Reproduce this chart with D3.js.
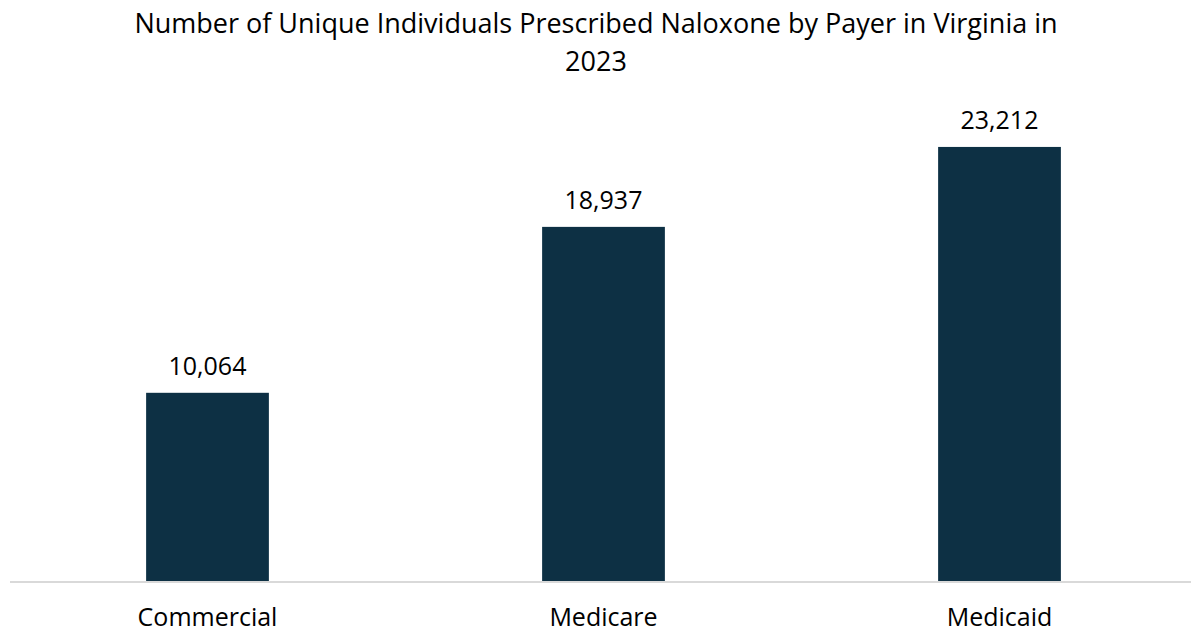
<!DOCTYPE html>
<html>
<head>
<meta charset="utf-8">
<script src="https://cdn.jsdelivr.net/npm/d3@7"></script>
<style>
  body { margin: 0; background: #fff; }
  text { font-family: "Open Sans", sans-serif; fill: #000; }
</style>
</head>
<body>
<svg width="1191" height="633"></svg>
<script>
var categories = ["Commercial", "Medicare", "Medicaid"];
var values = [10064, 18937, 23212];
var titleLines = ["Number of Unique Individuals Prescribed Naloxone by Payer in Virginia in", "2023"];

var svg = d3.select("svg"),
    baseline = 581;

var x = d3.scaleBand()
    .domain(categories)
    .range([9.5, 1197.5])
    .paddingInner(0.69)
    .paddingOuter(0.345);

var y = d3.scaleLinear()
    .domain([0, 25000])
    .range([baseline, baseline - 25000 * 0.0187]);

var data = categories.map(function(c, i) { return {cat: c, value: values[i]}; });

// title, two lines
svg.append("g").selectAll("text").data(titleLines).enter().append("text")
    .attr("x", 596)
    .attr("y", (d, i) => 33 + i * 38)
    .attr("text-anchor", "middle")
    .style("font-size", "27px")
    .text(d => d);

// bars
svg.selectAll("rect.bar").data(data).enter().append("rect")
    .attr("class", "bar")
    .attr("x", d => x(d.cat))
    .attr("width", x.bandwidth())
    .attr("y", d => y(d.value))
    .attr("height", d => y(0) - y(d.value))
    .attr("fill", "#0d3044");

// value labels
svg.selectAll("text.val").data(data).enter().append("text")
    .attr("class", "val")
    .attr("x", d => x(d.cat) + x.bandwidth() / 2)
    .attr("y", d => y(d.value) - 18)
    .attr("text-anchor", "middle")
    .style("font-size", "25px")
    .text(d => d3.format(",")(d.value));

// x axis
var axis = svg.append("g")
    .attr("transform", "translate(0," + (baseline + 1) + ")")
    .call(d3.axisBottom(x).tickSize(0).tickPadding(26));
axis.select(".domain")
    .attr("d", "M10,0H1191")
    .attr("stroke", "#d9d9d9")
    .attr("stroke-width", 2);
axis.selectAll(".tick text")
    .style("font-family", "'Open Sans', sans-serif")
    .style("font-size", "25px")
    .attr("fill", "#000")
    .attr("dy", "0.71em");
</script>
</body>
</html>
